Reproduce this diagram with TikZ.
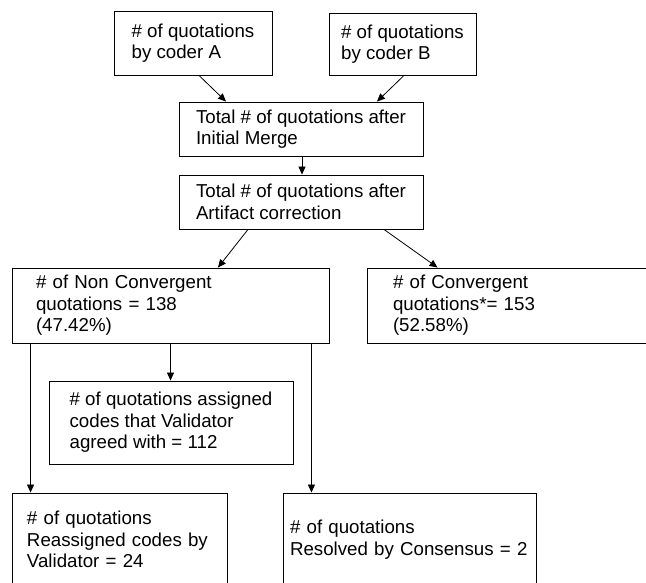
\documentclass[tikz,border=0pt]{standalone}
\usepackage{fontspec}
\setmainfont{Liberation Sans}
\usetikzlibrary{arrows.meta}
\begin{document}
\begin{tikzpicture}[x=1pt,y=1pt]
\tikzstyle{every node}+=[inner sep=0pt]
\tikzstyle{quotbox}=[draw=black, line width=0.9pt, rectangle, align=left, font=\fontsize{18.7pt}{21.5pt}\selectfont]
\tikzstyle{quotarrow}=[draw=black, line width=0.8pt, -{Triangle[length=8pt,width=7pt]}]
\useasboundingbox (0,0) rectangle (646,-583);
\clip (0,0) rectangle (646,-583);
\node [quotbox, minimum width=158pt, minimum height=64pt] (coderA) at (193,-43) {\# of quotations\\by coder A};
\node [quotbox, minimum width=147pt, minimum height=62pt] (coderB) at (402.5,-44) {\# of quotations\\by coder B};
\node [quotbox, minimum width=244pt, minimum height=54pt] (merge) at (301,-129) {Total \# of quotations after\\Initial Merge};
\node [quotbox, minimum width=244pt, minimum height=54pt] (artifact) at (301,-202) {Total \# of quotations after\\Artifact correction};
\node [quotbox, text width=269pt, inner xsep=24pt, minimum width=317pt, minimum height=75pt] (nonconv) at (170.5,-305.5) {\# of Non Convergent\\quotations = 138\\(47.42\%)};
\node [quotbox, text width=241pt, inner xsep=26pt, minimum width=293pt, minimum height=75pt] (conv) at (513.5,-305.5) {\# of Convergent\\quotations*= 153\\(52.58\%)};
\node [quotbox, minimum width=244pt, minimum height=83pt] (agreed) at (171,-422.5) {\# of quotations assigned\\codes that Validator\\agreed with = 112};
\node [quotbox, text width=185pt, inner xsep=15pt, minimum width=215pt, minimum height=93pt] (reassigned) at (119.5,-539.5) {\# of quotations\\Reassigned codes by\\Validator = 24};
\node [quotbox, text width=239pt, inner xsep=7pt, minimum width=253pt, minimum height=93pt] (resolved) at (409.5,-539.5) {\# of quotations\\Resolved by Consensus = 2};
\draw [quotarrow] ([xshift=6pt]coderA.south) -- ([xshift=-75pt]merge.north);
\draw [quotarrow] ([xshift=1.5pt]coderB.south) -- ([xshift=76pt]merge.north);
\draw [quotarrow] ([xshift=1pt]merge.south) -- ([xshift=1pt]artifact.north);
\draw [quotarrow] ([xshift=-53pt]artifact.south) -- ([xshift=47.5pt]nonconv.north);
\draw [quotarrow] ([xshift=83pt]artifact.south) -- ([xshift=71pt]conv.north west);
\draw [quotarrow] (nonconv.south) -- (nonconv.south |- agreed.north);
\draw [quotarrow] ([xshift=19pt]nonconv.south west) -- ([xshift=19pt]reassigned.north west);
\draw [quotarrow] ([xshift=-18pt]nonconv.south east) -- ([xshift=-18pt]nonconv.south east |- resolved.north);
\end{tikzpicture}
\end{document}
